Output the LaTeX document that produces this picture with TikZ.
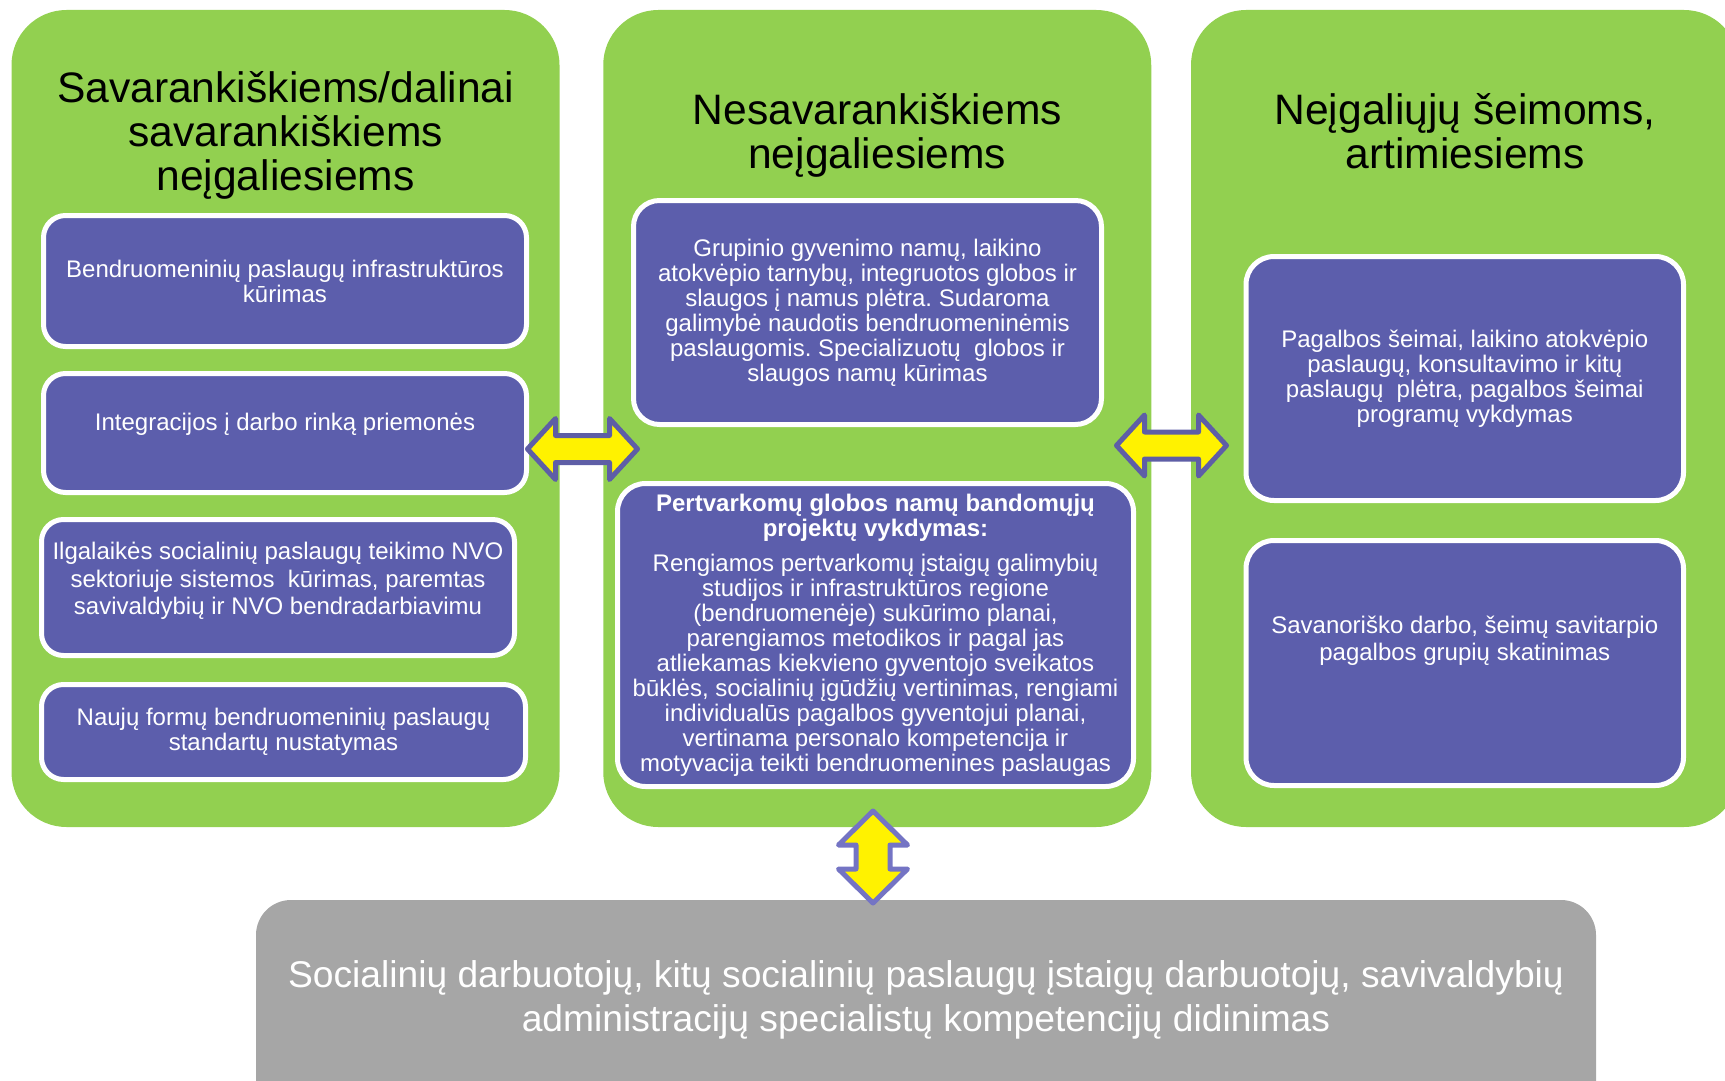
\documentclass[tikz,border=0pt]{standalone}
\usepackage{fontspec}
\setmainfont{Liberation Sans}
\usepackage{tikz}
\usetikzlibrary{positioning}
\definecolor{panelgreen}{RGB}{146,208,80}
\definecolor{boxpurple}{RGB}{92,94,172}
\definecolor{arrowpurple}{RGB}{94,94,166}
\definecolor{arrowlilac}{RGB}{116,116,196}
\definecolor{bargray}{RGB}{166,166,166}
\frenchspacing

\begin{document}
\begin{tikzpicture}[x=0.5pt,y=-0.5pt,
 panel/.style={fill=panelgreen,rounded corners=27.5pt,minimum width=274pt,minimum height=408.5pt,inner sep=0pt},
 ptitle/.style={align=center,font=\fontsize{21.3}{22}\selectfont,text=black,inner sep=0pt},
 pbox/.style={fill=boxpurple,draw=white,line width=2.5pt,rounded corners=11pt,align=center,text=white,inner sep=0pt,font=\fontsize{12}{12.5}\selectfont},
 gbox/.style={fill=bargray,rounded corners=17.5pt,align=center,text=white,inner sep=0pt,font=\fontsize{18.6}{22}\selectfont},
 barrow/.style={fill=yellow,draw=arrowpurple,line width=2.5pt,line join=round}]
 \useasboundingbox (0,0) rectangle (1725,1081);
 \clip (0,0) rectangle (1725,1081);

 \node[panel] (pL) at (285.5,418.5) {};
 \node[panel] (pM) at (877.25,418.5) {};
 \node[panel] (pR) at (1465,418.5) {};

 \node[ptitle] (tL) at (285.5,135.7) {Savarankiškiems/dalinai\\savarankiškiems\\neįgaliesiems};
 \node[ptitle] (tM) at (877.25,135) {Nesavarankiškiems\\neįgaliesiems};
 \node[ptitle] (tR) at (1465,131) {Neįgaliųjų šeimoms,\\artimiesiems};

 \node[pbox,minimum width=241.5pt,minimum height=65.5pt] (bInfra) at (285,281) {Bendruomeninių paslaugų infrastruktūros\\kūrimas};
 \node[pbox,minimum width=241.5pt,minimum height=59.5pt,text depth=11.5pt] (bDarbo) at (285,433) {Integracijos į darbo rinką priemonės};
 \node[pbox,minimum width=236.5pt,minimum height=68pt,text depth=9pt,font=\fontsize{12}{13.75}\selectfont] (bNvo) at (278,587.5) {Ilgalaikės socialinių paslaugų teikimo NVO\\sektoriuje sistemos~ kūrimas, paremtas\\savivaldybių ir NVO bendradarbiavimu};
 \node[pbox,minimum width=242pt,minimum height=47.5pt] (bStd) at (283.5,732) {Naujų formų bendruomeninių paslaugų\\standartų nustatymas};

 \node[pbox,minimum width=234pt,minimum height=112pt,rounded corners=13pt] (mGyv) at (867.5,312.5) {Grupinio gyvenimo namų, laikino\\atokvėpio tarnybų, integruotos globos ir\\slaugos į namus plėtra. Sudaroma\\galimybė naudotis bendruomeninėmis\\paslaugomis. Specializuotų~ globos ir\\slaugos namų kūrimas};
 \node[pbox,minimum width=258pt,minimum height=151.5pt,rounded corners=14pt] (mPert) at (875.5,635) {\textbf{Pertvarkomų globos namų bandomųjų}\\\textbf{projektų vykdymas:}\\[5pt]Rengiamos pertvarkomų įstaigų galimybių\\studijos ir infrastruktūros regione\\(bendruomenėje) sukūrimo planai,\\parengiamos metodikos ir pagal jas\\atliekamas kiekvieno gyventojo sveikatos\\būklės, socialinių įgūdžių vertinimas, rengiami\\individualūs pagalbos gyventojui planai,\\vertinama personalo kompetencija ir\\motyvacija teikti bendruomenines paslaugas};

 \node[pbox,minimum width=218.75pt,minimum height=122pt,rounded corners=14pt] (rPag) at (1464.75,378.5) {Pagalbos šeimai, laikino atokvėpio\\paslaugų, konsultavimo ir kitų\\paslaugų~ plėtra, pagalbos šeimai\\programų vykdymas};
 \node[pbox,minimum width=218.75pt,minimum height=122.5pt,rounded corners=14pt,text depth=24.5pt,font=\fontsize{12}{13.5}\selectfont] (rSav) at (1464.75,663) {Savanoriško darbo, šeimų savitarpio\\pagalbos grupių skatinimas};

 \node[gbox,minimum width=670pt,minimum height=110pt,text depth=14pt] (gKomp) at (926,1010) {Socialinių darbuotojų, kitų socialinių paslaugų įstaigų darbuotojų, savivaldybių\\administracijų specialistų kompetencijų didinimas};

 \coordinate (aL) at (582.5,449);
 \coordinate (aR) at (1171.5,445.5);
 \coordinate (aB) at (873,857);
 \draw[barrow,shift={(aL)}] (-55,0) -- (-27,-30.5) -- (-27,-13.5) -- (27,-13.5) -- (27,-30.5) -- (55,0) -- (27,30.5) -- (27,13.5) -- (-27,13.5) -- (-27,30.5) -- cycle;
 \draw[barrow,shift={(aR)}] (-55,0) -- (-27,-30.5) -- (-27,-13.5) -- (27,-13.5) -- (27,-30.5) -- (55,0) -- (27,30.5) -- (27,13.5) -- (-27,13.5) -- (-27,30.5) -- cycle;
 \draw[barrow,draw=arrowlilac,shift={(aB)}] (0,-46) -- (34.5,-12) -- (17,-12) -- (17,12) -- (34.5,12) -- (0,46) -- (-34.5,12) -- (-17,12) -- (-17,-12) -- (-34.5,-12) -- cycle;
\end{tikzpicture}
\end{document}
